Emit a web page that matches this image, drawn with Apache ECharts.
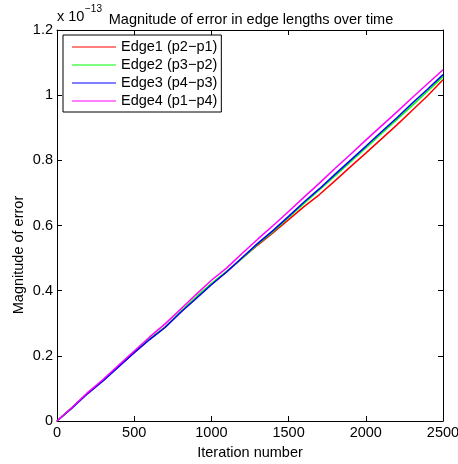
<!DOCTYPE html>
<html>
<head>
<meta charset="utf-8">
<script src="https://cdn.jsdelivr.net/npm/echarts@6/dist/echarts.min.js"></script>
<style>html,body{margin:0;padding:0;background:#fff;}#c{width:458px;height:464px;}</style>
</head>
<body>
<div id="c"></div>
<script>
const iterations = [0,100,200,300,400,500,600,700,800,900,1000,1100,1200,1300,1400,1500,1600,1700,1800,1900,2000,2100,2200,2300,2400,2500];
const edge1 = [0,0.042,0.085,0.125,0.168,0.210,0.251,0.288,0.334,0.378,0.420,0.458,0.500,0.540,0.578,0.618,0.658,0.695,0.737,0.780,0.822,0.865,0.908,0.953,0.998,1.047];
const edge2 = [0,0.042,0.086,0.125,0.168,0.212,0.252,0.288,0.336,0.380,0.422,0.460,0.500,0.543,0.582,0.625,0.668,0.710,0.752,0.795,0.838,0.882,0.925,0.968,1.012,1.057];
const edge3 = [0,0.041,0.085,0.124,0.167,0.210,0.250,0.287,0.333,0.375,0.418,0.458,0.502,0.545,0.585,0.628,0.672,0.713,0.757,0.800,0.843,0.887,0.930,0.975,1.018,1.063];
const edge4 = [0,0.043,0.088,0.128,0.172,0.215,0.258,0.298,0.343,0.388,0.432,0.470,0.515,0.558,0.600,0.643,0.687,0.730,0.775,0.818,0.862,0.905,0.948,0.992,1.035,1.078];
const xTickLabels = ['0','500','1000','1500','2000','2500'];
const yTickLabels = ['0','0.2','0.4','0.6','0.8','1','1.2'];
const seriesNames = ['Edge1 (p2\u2212p1)','Edge2 (p3\u2212p2)','Edge3 (p4\u2212p3)','Edge4 (p1\u2212p4)'];
const seriesColors = ['#ff0000','#00ff00','#0000ff','#ff00ff'];
const seriesValues = [edge1, edge2, edge3, edge4];

const FONT = '"Liberation Sans", Arial, sans-serif';
const FS = 14.5;
const chart = echarts.init(document.getElementById('c'), null, {renderer: 'canvas'});

const axisCommon = {
  axisLine: {show: true, onZero: false, lineStyle: {color: '#000', width: 1}},
  axisTick: {show: true, inside: true, length: 5, lineStyle: {color: '#000'}},
  splitLine: {show: false}
};

chart.setOption({
  animation: false,
  backgroundColor: '#fff',
  textStyle: {fontFamily: FONT},
  grid: {left: 57, right: 15, top: 30, bottom: 43, containLabel: false, outerBoundsMode: 'none'},
  title: {
    text: 'Magnitude of error in edge lengths over time',
    left: 246, textAlign: 'center', top: 7,
    textStyle: {fontFamily: FONT, fontSize: FS, fontWeight: 'normal', color: '#000'}
  },
  graphic: [
    {type: 'text', left: 57, top: 9, style: {text: 'x 10', font: FS + 'px ' + FONT, fill: '#000'}},
    {type: 'text', left: 85, top: 4, style: {text: '\u221213', font: '10px ' + FONT, fill: '#000'}},
    {type: 'text', x: 19, y: 255, rotation: Math.PI / 2,
     style: {text: 'Magnitude of error', font: FS + 'px ' + FONT, fill: '#000', align: 'center', verticalAlign: 'middle'}}
  ],
  legend: {
    orient: 'vertical', left: 63, top: 35,
    data: seriesNames,
    icon: 'rect', itemWidth: 44, itemHeight: 1, itemGap: 0,
    padding: [3, 4, 2, 9],
    borderColor: '#000', borderWidth: 1, backgroundColor: '#fff',
    textStyle: {fontFamily: FONT, fontSize: FS, color: '#000', lineHeight: 18}
  },
  xAxis: [
    Object.assign({type: 'value', position: 'bottom', min: 0, max: 2500, interval: 500,
      name: 'Iteration number', nameLocation: 'middle', nameGap: 24,
      nameTextStyle: {fontFamily: FONT, fontSize: FS, color: '#000'},
      axisLabel: {fontFamily: FONT, fontSize: FS, color: '#000', margin: 4,
        formatter: (v) => xTickLabels[Math.round(v / 500)]}}, axisCommon),
    Object.assign({type: 'value', position: 'top', min: 0, max: 2500, interval: 500,
      axisLabel: {show: false}}, axisCommon)
  ],
  yAxis: [
    Object.assign({type: 'value', position: 'left', min: 0, max: 1.2, interval: 0.2,
      axisLabel: {fontFamily: FONT, fontSize: FS, color: '#000', margin: 4,
        formatter: (v) => yTickLabels[Math.round(v / 0.2)]}}, axisCommon),
    Object.assign({type: 'value', position: 'right', min: 0, max: 1.2, interval: 0.2,
      axisLabel: {show: false}}, axisCommon)
  ],
  series: seriesValues.map((vals, i) => ({
    name: seriesNames[i], type: 'line', xAxisIndex: 0, yAxisIndex: 0,
    data: iterations.map((x, j) => [x, vals[j]]),
    showSymbol: false, symbol: 'none',
    itemStyle: {color: seriesColors[i]},
    lineStyle: {color: seriesColors[i], width: 1.5}
  }))
});
</script>
</body>
</html>
